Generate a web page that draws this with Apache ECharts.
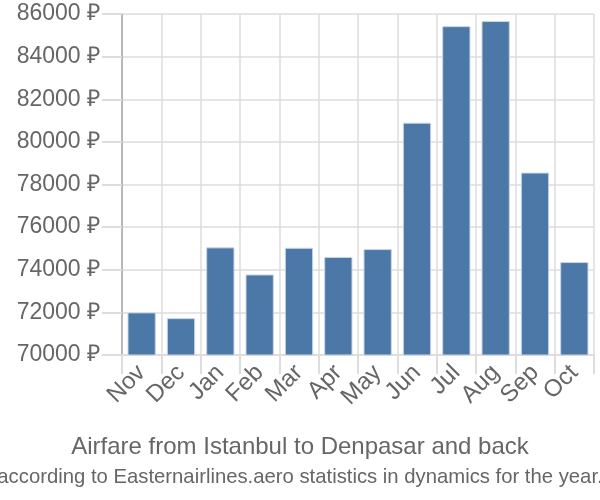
<!DOCTYPE html>
<html><head><meta charset="utf-8">
<script src="https://cdn.jsdelivr.net/npm/echarts@6/dist/echarts.min.js"></script>
<style>html,body{margin:0;padding:0;background:#fff}#c{width:600px;height:500px}</style>
</head><body><div id="c"></div>
<script>
const months = ['Nov','Dec','Jan','Feb','Mar','Apr','May','Jun','Jul','Aug','Sep','Oct'];
const prices = [72000,71730,75050,73780,75030,74600,74970,80900,85430,85670,78560,74360];
const yMin = 70000, yMax = 86000, yStep = 2000;
const currency = '₽';
const titleText = 'Airfare from Istanbul to Denpasar and back';
const subText = 'according to Easternairlines.aero statistics in dynamics for the year.';

const chart = echarts.init(document.getElementById('c'));
chart.setOption({
  animation: false,
  textStyle: {fontFamily: 'Liberation Sans'},
  title: {
    text: titleText, subtext: subText, left: 'center', top: 430,
    textStyle: {fontSize: 24, fontWeight: 'normal', color: '#666', fontFamily: 'Liberation Sans'},
    subtextStyle: {fontSize: 20.3, color: '#666', fontFamily: 'Liberation Sans'}, itemGap: 8
  },
  grid: {left: 122, right: 6, top: 14, bottom: 145},
  xAxis: {
    type: 'category', data: months,
    axisLine: {lineStyle: {color: '#ddd', width: 2}},
    axisTick: {show: true, length: 19, lineStyle: {color: '#ddd', width: 2}},
    splitLine: {show: true, lineStyle: {color: '#ddd', width: 1.5}},
    axisLabel: {rotate: 45, fontSize: 24, color: '#666', margin: 14, interval: 0}
  },
  yAxis: {
    type: 'value', min: yMin, max: yMax, interval: yStep,
    axisLine: {show: true, lineStyle: {color: '#aaa', width: 1.5}},
    axisTick: {show: true, length: 20, lineStyle: {color: '#ddd', width: 2}},
    splitLine: {lineStyle: {color: '#ddd', width: 1.5}},
    axisLabel: {formatter: v => v + ' ' + currency, fontSize: 23, color: '#666', margin: 22}
  },
  series: [{
    type: 'bar', data: prices, barCategoryGap: '28%',
    itemStyle: {color: '#4c78a8', borderColor: '#c8d6e8', borderWidth: 1}
  }]
});
</script></body></html>
